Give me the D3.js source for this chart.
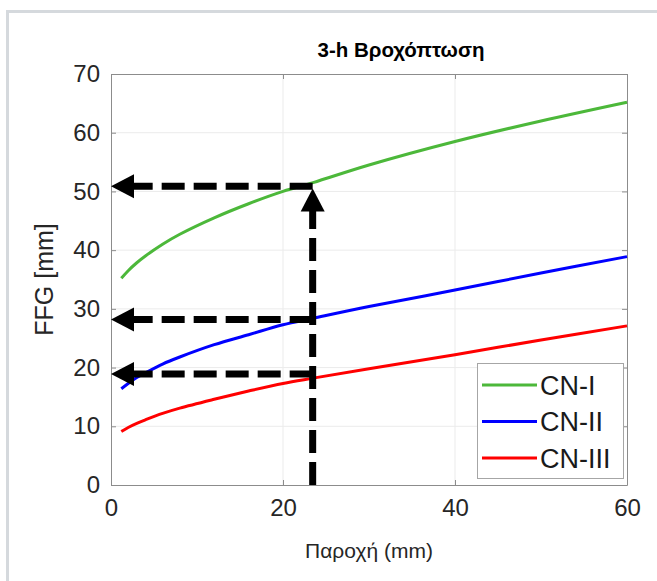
<!DOCTYPE html>
<html>
<head>
<meta charset="utf-8">
<script src="https://cdn.jsdelivr.net/npm/d3@7"></script>
<style>
  body { margin: 0; background: #fff; }
  text { font-family: "Liberation Sans", Arial, sans-serif; }
</style>
</head>
<body>
<script>
// data
const xVals = [1.2, 2, 3, 4, 6, 8, 12, 16, 20, 23.5, 30, 40, 50, 60];
const cn1 = [35.2, 36.5, 37.85, 39.0, 41.0, 42.7, 45.5, 47.9, 50.0, 51.5, 54.5, 58.5, 62.0, 65.2];
const cn2 = [16.4, 17.3, 18.3, 19.1, 20.6, 21.8, 23.9, 25.6, 27.3, 28.4, 30.4, 33.2, 36.1, 38.9];
const cn3 = [9.1, 9.8, 10.5, 11.1, 12.2, 13.1, 14.6, 16.0, 17.3, 18.2, 19.8, 22.2, 24.7, 27.1];
const seriesNames = ["CN-I", "CN-II", "CN-III"];
const seriesColors = ["#4cb83a", "#0000ff", "#ff0000"];
const xTicks = [0, 20, 40, 60];
const yTicks = [0, 10, 20, 30, 40, 50, 60, 70];
const readX = 23.45;
const readY = [50.9, 28.2, 18.9];

const W = 657, H = 581;
const mLeft = 111, mRight = 627, mTop = 74, mBottom = 485;

const svg = d3.select("body").append("svg")
  .attr("width", W)
  .attr("height", H);

svg.append("rect").attr("width", W).attr("height", H).attr("fill", "#fff");

// outer frame
svg.append("path")
  .attr("d", `M7.5,${H} L7.5,11.5 L${W},11.5`)
  .attr("fill", "none")
  .attr("stroke", "#d5d9dd")
  .attr("stroke-width", 3);

const x = d3.scaleLinear().domain([0, 60]).range([mLeft, mRight]);
const y = d3.scaleLinear().domain([0, 70]).range([mBottom, mTop]);

// grid
svg.append("g").selectAll("line").data(xTicks.slice(1, -1)).join("line")
  .attr("x1", d => x(d)).attr("x2", d => x(d))
  .attr("y1", mTop).attr("y2", mBottom)
  .attr("stroke", "#ebebeb").attr("stroke-width", 1);
svg.append("g").selectAll("line").data(yTicks.slice(1, -1)).join("line")
  .attr("y1", d => y(d)).attr("y2", d => y(d))
  .attr("x1", mLeft).attr("x2", mRight)
  .attr("stroke", "#ebebeb").attr("stroke-width", 1);

// axes (ticks inward, like matlab)
const axB = svg.append("g").attr("transform", `translate(0,${mBottom})`)
  .call(d3.axisBottom(x).tickValues(xTicks).tickSizeInner(-5).tickSizeOuter(0).tickPadding(14));
const axT = svg.append("g").attr("transform", `translate(0,${mTop})`)
  .call(d3.axisTop(x).tickValues(xTicks).tickSizeInner(-5).tickSizeOuter(0).tickFormat(""));
const axL = svg.append("g").attr("transform", `translate(${mLeft},0)`)
  .call(d3.axisLeft(y).tickValues(yTicks).tickSizeInner(-5).tickSizeOuter(0).tickPadding(11));
const axR = svg.append("g").attr("transform", `translate(${mRight},0)`)
  .call(d3.axisRight(y).tickValues(yTicks).tickSizeInner(-5).tickSizeOuter(0).tickFormat(""));

[axB, axT, axL, axR].forEach(a => {
  a.select(".domain").attr("stroke", "#8c8c8c");
  a.selectAll(".tick line").attr("stroke", "#8c8c8c");
  a.selectAll(".tick text")
    .attr("fill", "#262626")
    .style("font-size", "24px")
    .style("font-family", "'Liberation Sans', Arial, sans-serif");
});
axB.selectAll(".tick text").attr("dy", "0.71em");

// curves
const line = d3.line()
  .x((d, i) => x(xVals[i]))
  .y(d => y(d))
  .curve(d3.curveCatmullRom);

[cn1, cn2, cn3].forEach((s, i) => {
  svg.append("path")
    .attr("d", line(s))
    .attr("fill", "none")
    .attr("stroke", seriesColors[i])
    .attr("stroke-width", 3);
});

// dashed reading arrows
const dash = "23,9";
const headLen = 23, headHalf = 12;
const arrows = svg.append("g").attr("fill", "#000");

readY.forEach(v => {
  arrows.append("line")
    .attr("x1", x(readX)).attr("y1", y(v))
    .attr("x2", x(0) + headLen - 2).attr("y2", y(v))
    .attr("stroke", "#000").attr("stroke-width", 7)
    .attr("stroke-dasharray", dash);
  arrows.append("path")
    .attr("d", `M${x(0)},${y(v)} L${x(0) + headLen},${y(v) - headHalf} L${x(0) + headLen},${y(v) + headHalf} Z`);
});

const tipY = 50.5;
arrows.append("line")
  .attr("x1", x(readX)).attr("y1", y(0))
  .attr("x2", x(readX)).attr("y2", y(tipY) + headLen - 2)
  .attr("stroke", "#000").attr("stroke-width", 7)
  .attr("stroke-dasharray", dash);
arrows.append("path")
  .attr("d", `M${x(readX)},${y(tipY)} L${x(readX) - headHalf},${y(tipY) + headLen} L${x(readX) + headHalf},${y(tipY) + headLen} Z`);

// legend
const leg = svg.append("g").attr("transform", "translate(477,363)");
leg.append("rect")
  .attr("x", 0.5).attr("y", 0.5)
  .attr("width", 146).attr("height", 115)
  .attr("fill", "#fff")
  .attr("stroke", "#a6a6a6");
seriesNames.forEach((n, i) => {
  const ly = 22 + i * 36.5;
  leg.append("line")
    .attr("x1", 5).attr("x2", 60)
    .attr("y1", ly).attr("y2", ly)
    .attr("stroke", seriesColors[i]).attr("stroke-width", 3);
  leg.append("text")
    .attr("x", 63).attr("y", ly)
    .attr("dy", "0.36em")
    .attr("fill", "#1a1a1a")
    .style("font-size", "27px")
    .text(n);
});

// titles
svg.append("text")
  .attr("x", 401).attr("y", 57)
  .attr("text-anchor", "middle")
  .style("font-size", "20.5px")
  .style("font-weight", "bold")
  .attr("fill", "#000")
  .text("3-h Βροχόπτωση");

svg.append("text")
  .attr("x", 369).attr("y", 558)
  .attr("text-anchor", "middle")
  .style("font-size", "21px")
  .attr("fill", "#262626")
  .text("Παροχή (mm)");

svg.append("text")
  .attr("transform", `translate(53,${(mTop + mBottom) / 2}) rotate(-90)`)
  .attr("text-anchor", "middle")
  .style("font-size", "25px")
  .attr("fill", "#262626")
  .text("FFG [mm]");
</script>
</body>
</html>
